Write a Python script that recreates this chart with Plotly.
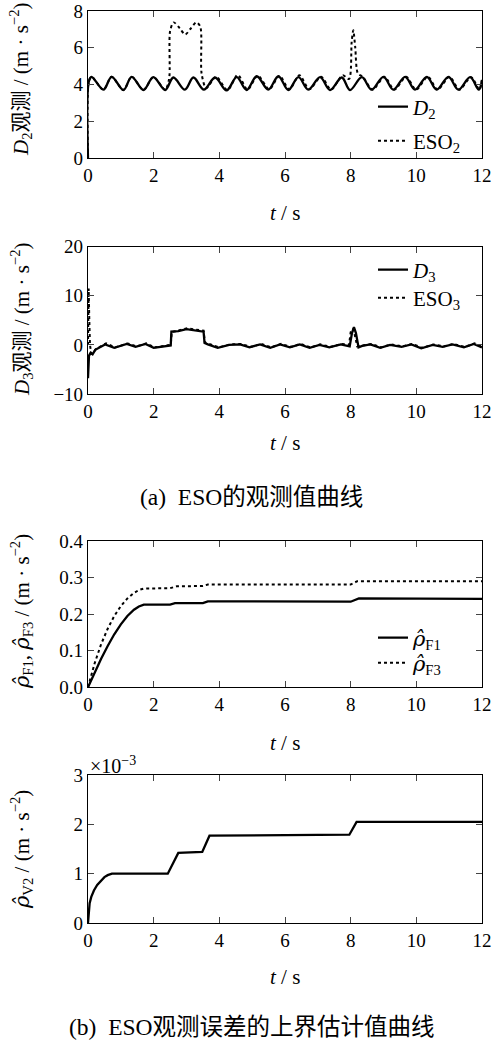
import plotly.graph_objects as go

# ---------------- data ----------------
t_D2 = [0, 0.03, 0.11, 0.47, 0.72, 1.08, 1.33, 1.69, 1.99, 2.35, 2.60, 2.95, 3.21, 3.53, 3.87,
        4.22, 4.53, 4.83, 5.14, 5.49, 5.80, 6.10, 6.41, 6.71, 7.07, 7.37, 7.73, 7.98, 8.34,
        8.64, 9.00, 9.30, 9.66, 9.96, 10.32, 10.62, 10.98, 11.28, 11.64, 11.90, 12.0]
D2 = [0, 4.2, 4.42, 3.72, 4.42, 3.70, 4.42, 3.70, 4.40, 3.70, 4.38, 3.72, 4.38, 3.72, 4.38,
      3.68, 4.40, 3.70, 4.45, 3.72, 4.45, 3.70, 4.40, 3.72, 4.40, 3.70, 4.38, 3.70, 4.40,
      3.72, 4.42, 3.72, 4.42, 3.72, 4.42, 3.72, 4.42, 3.72, 4.40, 3.72, 4.25]

t_ESO2 = [0, 0.03, 0.11, 0.47, 0.72, 1.08, 1.33, 1.69, 1.99, 2.35, 2.47, 2.50, 2.61, 2.80,
          2.96, 3.13, 3.30, 3.42, 3.46, 3.60, 3.90, 4.25, 4.56, 4.86, 5.17, 5.52, 5.83, 6.13,
          6.44, 6.74, 7.10, 7.40, 7.76, 7.95, 8.03, 8.08, 8.14, 8.22, 8.37, 8.67, 9.03, 9.33,
          9.69, 9.99, 10.35, 10.65, 11.01, 11.31, 11.67, 11.92, 12.0]
ESO2 = [0, 4.2, 4.42, 3.72, 4.42, 3.70, 4.42, 3.70, 4.40, 3.72, 4.30, 6.9, 7.38, 7.05,
        6.72, 7.05, 7.38, 7.15, 4.6, 3.80, 4.42, 3.70, 4.52, 3.72, 4.48, 3.74, 4.47, 3.74,
        4.50, 3.74, 4.42, 3.72, 4.50, 4.30, 6.3, 6.95, 6.0, 4.60, 4.42, 3.72, 4.42, 3.72,
        4.42, 3.72, 4.42, 3.72, 4.42, 3.72, 4.40, 3.72, 4.25]

t_D3 = [0, 0.03, 0.08, 0.14, 0.22, 0.35, 0.52, 0.80, 1.18, 1.45, 1.75, 2.00, 2.25, 2.52,
        2.54, 2.75, 3.00, 3.25, 3.52, 3.55, 3.65, 3.95, 4.30, 4.63, 4.92, 5.24, 5.55, 5.85,
        6.15, 6.45, 6.75, 7.05, 7.35, 7.70, 7.97, 8.04, 8.10, 8.16, 8.24, 8.35, 8.60, 8.90,
        9.20, 9.55, 9.85, 10.15, 10.50, 10.80, 11.10, 11.45, 11.75, 12.0]
D3 = [-6.8, -2.2, -1.6, -1.9, -1.0, -0.5, 0.1, -0.6, 0.2, -0.4, 0.2, -0.6, -0.3, -0.1,
      2.7, 2.8, 3.2, 3.0, 2.7, 0.4, 0.1, -0.6, 0.0, 0.1, -0.5, 0.1, -0.6, 0.1,
      -0.5, 0.1, -0.6, 0.0, -0.5, 0.1, -0.3, 2.4, 3.6, 2.4, -0.5, -0.2, 0.1, -0.6,
      0.0, -0.4, 0.1, -0.7, 0.0, -0.4, 0.1, -0.5, 0.2, -0.5]

t_ESO3 = [0, 0.02, 0.04, 0.06, 0.10, 0.16, 0.25, 0.38, 0.55, 0.83, 1.21, 1.48, 1.78, 2.03,
          2.28, 2.52, 2.55, 2.78, 3.03, 3.28, 3.52, 3.56, 3.68, 3.98, 4.33, 4.66, 4.95, 5.27,
          5.58, 5.88, 6.18, 6.48, 6.78, 7.08, 7.38, 7.73, 7.95, 8.00, 8.07, 8.12, 8.20, 8.38,
          8.63, 8.93, 9.23, 9.58, 9.88, 10.18, 10.53, 10.83, 11.13, 11.48, 11.78, 12.0]
ESO3 = [0, 11.5, 5.0, 0.0, -1.8, -1.5, -0.8, -0.3, 0.3, -0.5, 0.3, -0.3, 0.3, -0.5,
        -0.2, 0.0, 2.6, 3.0, 3.4, 3.1, 2.9, 0.5, 0.2, -0.5, 0.1, 0.2, -0.4, 0.2,
        -0.5, 0.2, -0.4, 0.2, -0.5, 0.1, -0.4, 0.2, 0.0, 2.6, 3.3, 2.2, -0.3, -0.1,
        0.2, -0.5, 0.1, -0.3, 0.2, -0.6, 0.1, -0.3, 0.2, -0.4, 0.3, -0.4]

t_rhoF1 = [0, 0.2, 0.4, 0.6, 0.8, 1.0, 1.2, 1.4, 1.55, 1.7, 2.5, 2.65, 3.5, 3.65, 8.0, 8.25, 12.0]
rhoF1 = [0, 0.040, 0.078, 0.113, 0.145, 0.172, 0.195, 0.212, 0.221, 0.226, 0.226, 0.230,
         0.230, 0.235, 0.234, 0.243, 0.242]

t_rhoF3 = [0, 0.2, 0.4, 0.6, 0.8, 1.0, 1.2, 1.4, 1.55, 1.7, 2.5, 2.7, 3.5, 3.65, 8.0, 8.2, 12.0]
rhoF3 = [0, 0.065, 0.118, 0.160, 0.195, 0.222, 0.243, 0.258, 0.266, 0.270, 0.271, 0.276,
         0.277, 0.281, 0.281, 0.290, 0.290]

t_rhoV2 = [0, 0.02, 0.05, 0.10, 0.18, 0.28, 0.38, 0.50, 0.60, 0.73, 2.43, 2.75, 3.48, 3.70, 7.96, 8.18, 12.0]
rhoV2_e3 = [0, 0.25, 0.40, 0.53, 0.66, 0.77, 0.85, 0.93, 0.97, 1.00, 1.00, 1.42, 1.44, 1.77, 1.79, 2.05, 2.05]

x_ticks = [0, 2, 4, 6, 8, 10, 12]

# ---------------- figure ----------------
W, H = 495, 1040
FONT = "Liberation Serif"
FONT_CJK = "Liberation Serif, Noto Sans CJK SC"
TICKF = dict(family=FONT, size=19, color="black")
RHO = '<span style="font-family:DejaVu Serif"><i>ρ̂</i></span>'

fig = go.Figure()

def px_dom(top, bottom):
    return [1 - bottom / H, 1 - top / H]

panels = [(11, 158), (246.7, 394), (541, 687.3), (775, 923)]

solid = dict(color="black", width=2.3)
dotted = dict(color="black", width=2.0, dash="dot")

fig.add_trace(go.Scatter(x=t_D2, y=D2, mode="lines", line=dict(**solid, shape="spline", smoothing=1.0),
                         name="<i>D</i><sub>2</sub>", xaxis="x", yaxis="y", legend="legend"))
fig.add_trace(go.Scatter(x=t_ESO2, y=ESO2, mode="lines", line=dict(**dotted, shape="spline", smoothing=0.8),
                         name="ESO<sub>2</sub>", xaxis="x", yaxis="y", legend="legend2"))
fig.add_trace(go.Scatter(x=t_D3, y=D3, mode="lines", line=solid,
                         name="<i>D</i><sub>3</sub>", xaxis="x2", yaxis="y2", legend="legend3"))
fig.add_trace(go.Scatter(x=t_ESO3, y=ESO3, mode="lines", line=dotted,
                         name="ESO<sub>3</sub>", xaxis="x2", yaxis="y2", legend="legend4"))
fig.add_trace(go.Scatter(x=t_rhoF1, y=rhoF1, mode="lines", line=solid,
                         name=RHO + "<sub>F1</sub>", xaxis="x3", yaxis="y3", legend="legend5"))
fig.add_trace(go.Scatter(x=t_rhoF3, y=rhoF3, mode="lines", line=dotted,
                         name=RHO + "<sub>F3</sub>", xaxis="x3", yaxis="y3", legend="legend6"))
fig.add_trace(go.Scatter(x=t_rhoV2, y=rhoV2_e3, mode="lines", line=solid,
                         name="ρV2", xaxis="x4", yaxis="y4", showlegend=False))

xdom = [88 / W, 482 / W]
common_x = dict(range=[0, 12], tickvals=x_ticks, ticks="inside", ticklen=6, tickwidth=1,
                showline=True, linecolor="black", linewidth=1.2, mirror="ticks",
                showgrid=False, zeroline=False, tickfont=TICKF, domain=xdom)
common_y = dict(ticks="inside", ticklen=6, tickwidth=1, showline=True, linecolor="black",
                linewidth=1.2, mirror="ticks", showgrid=False, zeroline=False, tickfont=TICKF)

fig.update_layout(
    xaxis=dict(**common_x, anchor="y"),
    yaxis=dict(**common_y, range=[0, 8], tickvals=[0, 2, 4, 6, 8], domain=px_dom(*panels[0]), anchor="x"),
    xaxis2=dict(**common_x, anchor="y2"),
    yaxis2=dict(**common_y, range=[-10, 20], tickvals=[-10, 0, 10, 20], domain=px_dom(*panels[1]), anchor="x2"),
    xaxis3=dict(**common_x, anchor="y3"),
    yaxis3=dict(**common_y, range=[0, 0.4], tickvals=[0, 0.1, 0.2, 0.3, 0.4], tickformat=".1f",
                domain=px_dom(*panels[2]), anchor="x3"),
    xaxis4=dict(**common_x, anchor="y4"),
    yaxis4=dict(**common_y, range=[0, 3], tickvals=[0, 1, 2, 3], domain=px_dom(*panels[3]), anchor="x4"),
)

leg_common = dict(xanchor="left", yanchor="middle", bgcolor="rgba(0,0,0,0)",
                  font=dict(family=FONT, size=21, color="black"), itemwidth=30)
leg_rows = [107, 141, 270, 298, 638, 663]
legs = {}
for k, yc in enumerate(leg_rows):
    key = "legend" if k == 0 else f"legend{k + 1}"
    legs[key] = dict(**leg_common, x=373 / W, y=1 - yc / H)
fig.update_layout(**legs)

ann = []
AX = dict(family=FONT, size=21, color="black")
AXC = dict(family=FONT_CJK, size=21, color="black")
for yc in [213, 443, 743, 977]:
    ann.append(dict(x=285 / W, y=1 - yc / H, xref="paper", yref="paper", text="<i>t</i> / s",
                    showarrow=False, font=AX, xanchor="center", yanchor="middle"))
ytitles = [
    ("<i>D</i><sub>2</sub>观测 / (m · s<sup>−2</sup>)", 80, AXC),
    ("<i>D</i><sub>3</sub>观测 / (m · s<sup>−2</sup>)", 320, AXC),
    (RHO + "<sub>F1</sub>, " + RHO + "<sub>F3</sub> / (m · s<sup>−2</sup>)", 612, AX),
    (RHO + "<sub>V2</sub> / (m · s<sup>−2</sup>)", 850, AX),
]
for txt, yc, f in ytitles:
    ann.append(dict(x=21 / W, y=1 - yc / H, xref="paper", yref="paper", text=txt, textangle=-90,
                    showarrow=False, font=f, xanchor="center", yanchor="middle"))
ann.append(dict(x=88 / W, y=1 - 765 / H, xref="paper", yref="paper", text="×10<sup>−3</sup>",
                showarrow=False, font=dict(family=FONT, size=20, color="black"),
                xanchor="left", yanchor="middle"))
CAP = dict(family=FONT_CJK, size=23.5, color="black")
ann.append(dict(x=252 / W, y=1 - 497 / H, xref="paper", yref="paper", text="(a)  ESO的观测值曲线",
                showarrow=False, font=CAP, xanchor="center", yanchor="middle"))
ann.append(dict(x=252 / W, y=1 - 1027 / H, xref="paper", yref="paper", text="(b)  ESO观测误差的上界估计值曲线",
                showarrow=False, font=CAP, xanchor="center", yanchor="middle"))

fig.update_layout(width=W, height=H, margin=dict(l=0, r=0, t=0, b=0, autoexpand=False),
                  paper_bgcolor="white", plot_bgcolor="white", annotations=ann,
                  font=dict(family=FONT, color="black"))

fig.write_html("out.html", config={"displayModeBar": False},
               post_script="document.body.style.margin='0';document.body.style.padding='0';"
                           "document.body.style.overflow='hidden';"
                           "document.documentElement.style.overflow='hidden';")
